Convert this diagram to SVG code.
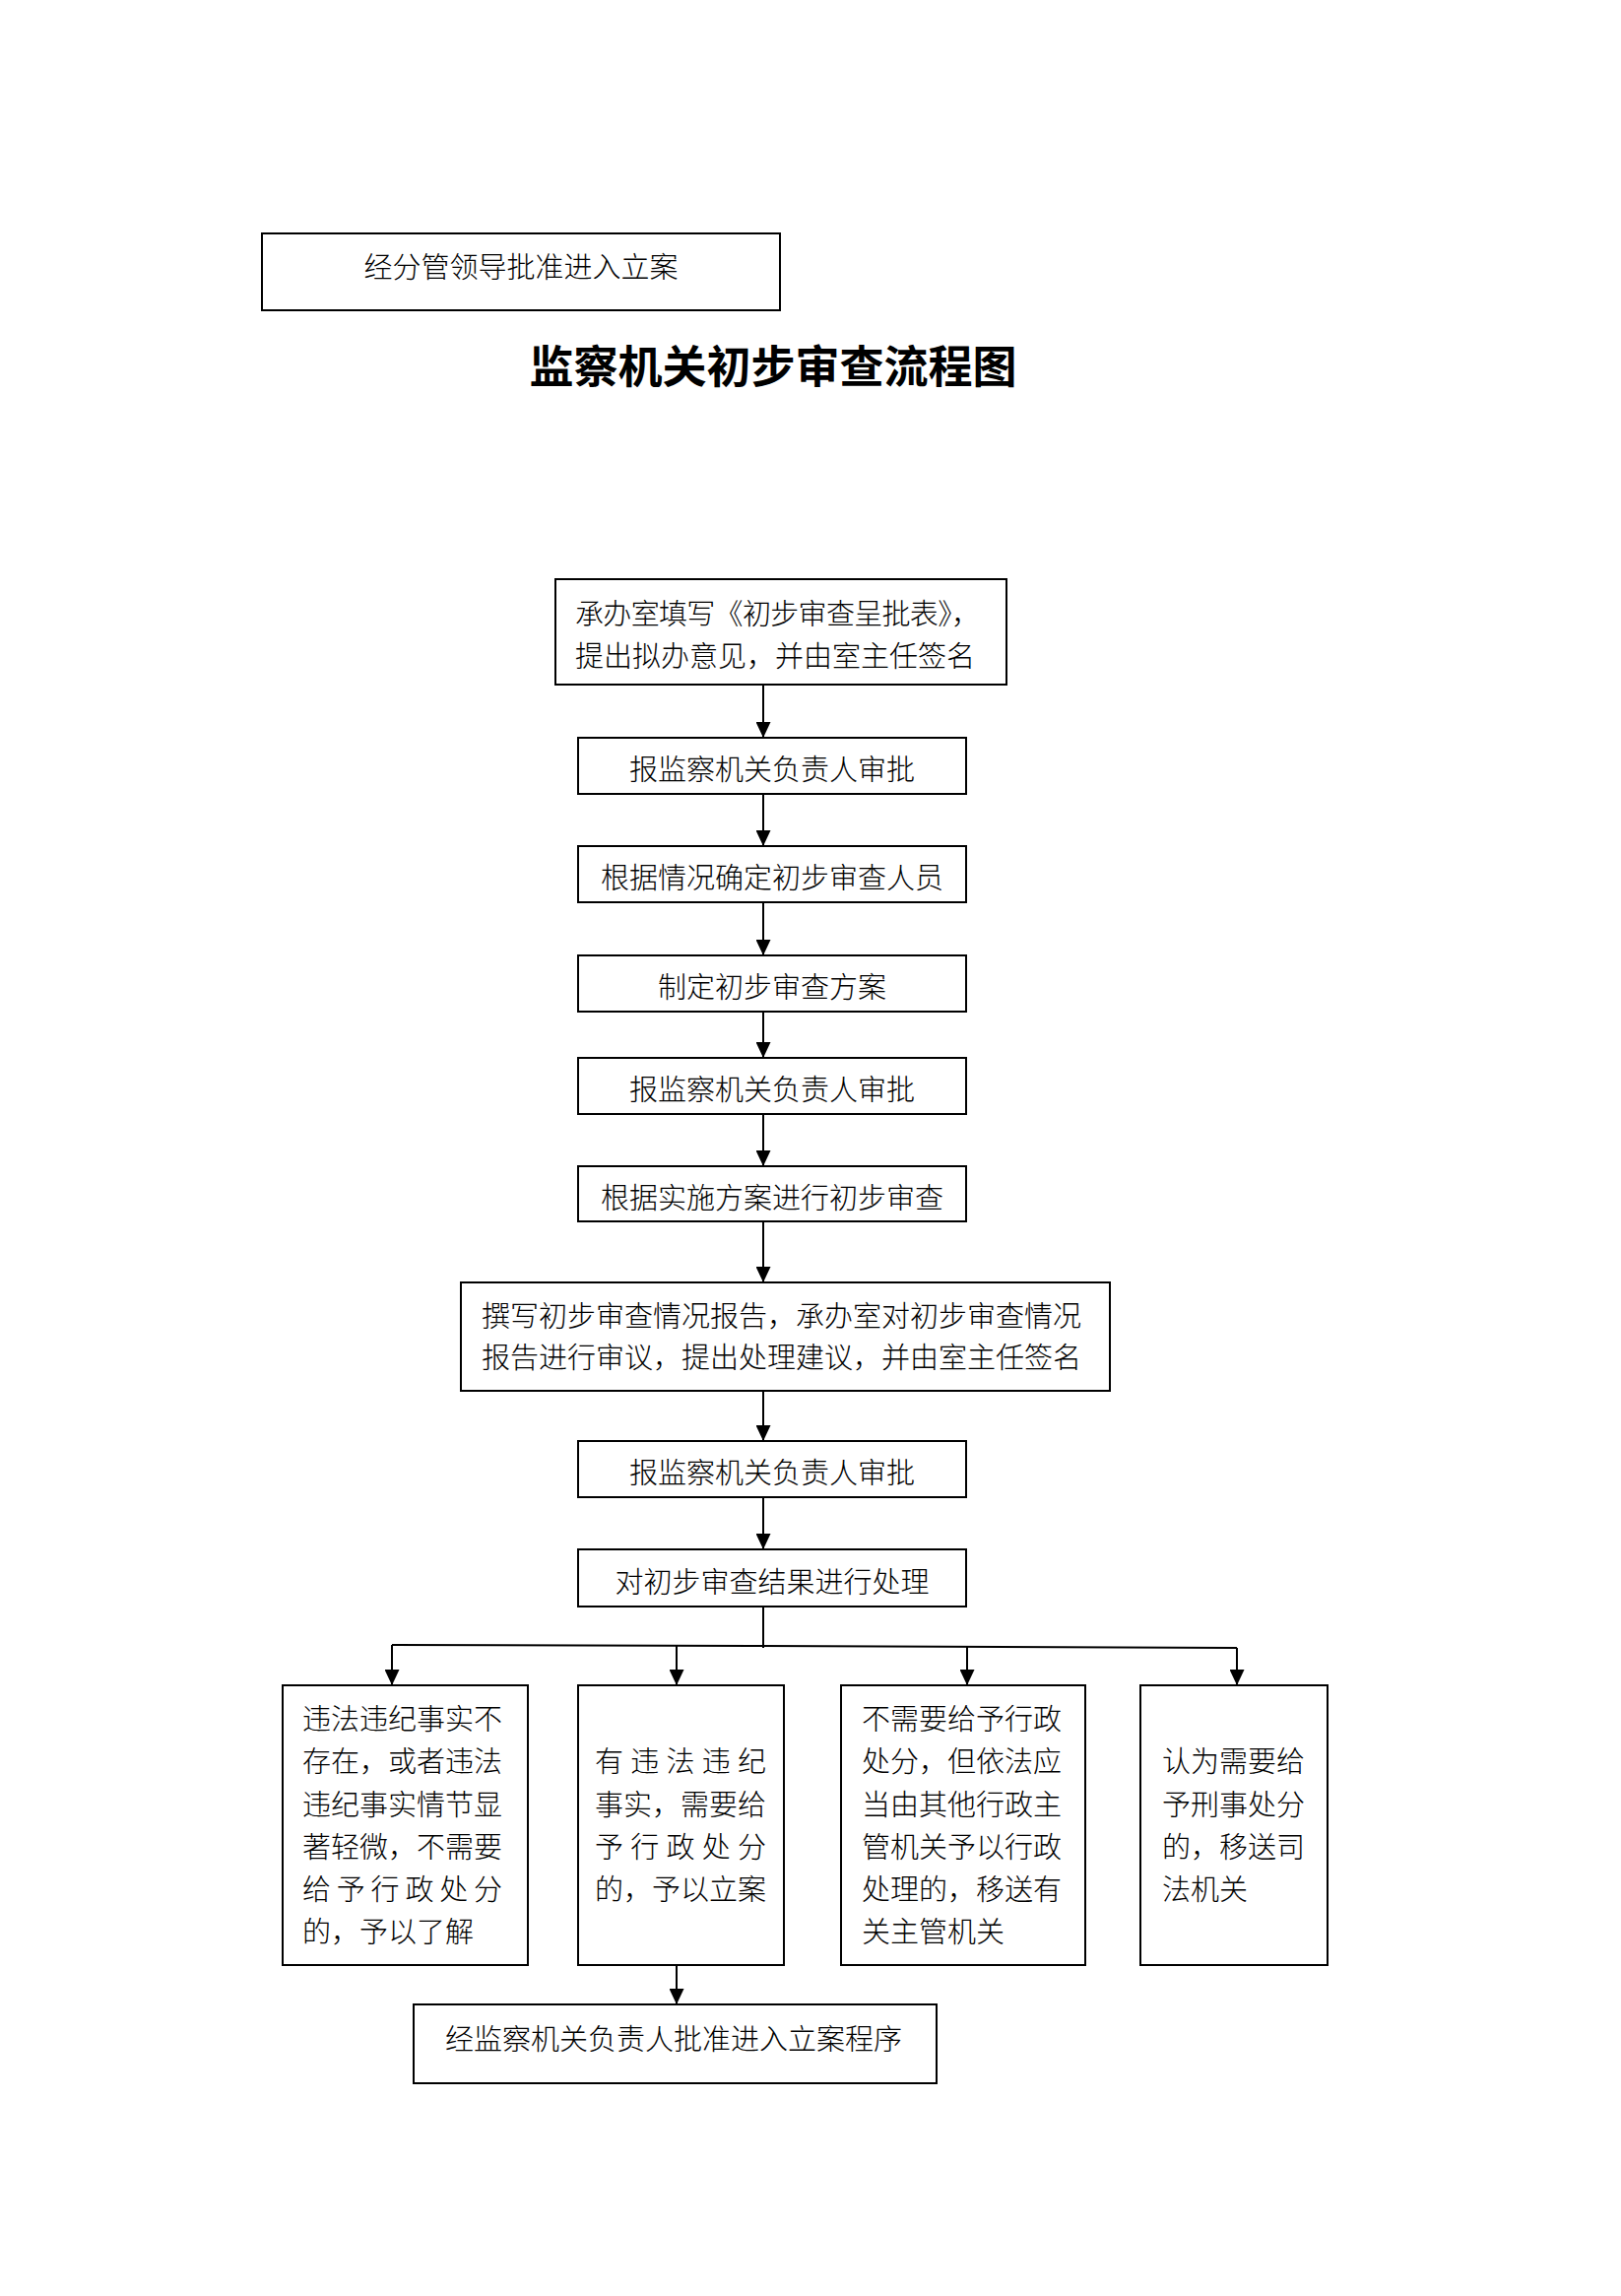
<svg xmlns="http://www.w3.org/2000/svg" width="1646" height="2331" viewBox="0 0 1646 2331">
<style>
.bg{fill:#ffffff}
.box{fill:#ffffff;stroke:#000000;stroke-width:2}
.t{font-family:"Noto Sans CJK SC","Noto Sans",sans-serif;font-size:29px;font-weight:300;fill:#000000}
.c{text-anchor:middle}
.title{font-family:"Noto Sans CJK SC","Noto Sans",sans-serif;font-size:45px;font-weight:bold;fill:#000000;text-anchor:middle}
.ln{fill:none;stroke:#000000;stroke-width:2}
</style>
<defs>
<marker id="ah" markerUnits="userSpaceOnUse" viewBox="0 0 16 15" refX="16" refY="7.5" markerWidth="16" markerHeight="15" orient="auto">
<path d="M0,0 L16,7.5 L0,15 z" fill="#000000"/>
</marker>
</defs>
<rect class="bg" x="0" y="0" width="1646" height="2331"/>

<g id="top-note">
<rect class="box" x="266" y="237" width="526" height="78"/>
<text class="t c" x="529" y="282">经分管领导批准进入立案</text>
</g>

<g id="title">
<text class="title" x="785" y="389">监察机关初步审查流程图</text>
</g>

<g id="connectors">
<line class="ln" x1="775" y1="695" x2="775" y2="749" marker-end="url(#ah)"/>
<line class="ln" x1="775" y1="806" x2="775" y2="859" marker-end="url(#ah)"/>
<line class="ln" x1="775" y1="916" x2="775" y2="970" marker-end="url(#ah)"/>
<line class="ln" x1="775" y1="1027" x2="775" y2="1074" marker-end="url(#ah)"/>
<line class="ln" x1="775" y1="1131" x2="775" y2="1184" marker-end="url(#ah)"/>
<line class="ln" x1="775" y1="1240" x2="775" y2="1302" marker-end="url(#ah)"/>
<line class="ln" x1="775" y1="1412" x2="775" y2="1463" marker-end="url(#ah)"/>
<line class="ln" x1="775" y1="1520" x2="775" y2="1573" marker-end="url(#ah)"/>
<line class="ln" x1="775" y1="1631" x2="775" y2="1673"/>
<polyline class="ln" points="398,1670 775,1671 1256,1673"/>
<line class="ln" x1="398" y1="1670" x2="398" y2="1711" marker-end="url(#ah)"/>
<line class="ln" x1="687" y1="1671" x2="687" y2="1711" marker-end="url(#ah)"/>
<line class="ln" x1="982" y1="1672" x2="982" y2="1711" marker-end="url(#ah)"/>
<line class="ln" x1="1256" y1="1673" x2="1256" y2="1711" marker-end="url(#ah)"/>
<line class="ln" x1="687" y1="1995" x2="687" y2="2035" marker-end="url(#ah)"/>
</g>

<g id="n1">
<rect class="box" x="564" y="588" width="458" height="107"/>
<text class="t" x="584" y="634" textLength="411" lengthAdjust="spacing">承办室填写《初步审查呈批表》，</text>
<text class="t" x="584" y="677">提出拟办意见，并由室主任签名</text>
</g>

<g id="n2">
<rect class="box" x="587" y="749" width="394" height="57"/>
<text class="t c" x="784" y="792">报监察机关负责人审批</text>
</g>

<g id="n3">
<rect class="box" x="587" y="859" width="394" height="57"/>
<text class="t c" x="784" y="902">根据情况确定初步审查人员</text>
</g>

<g id="n4">
<rect class="box" x="587" y="970" width="394" height="57"/>
<text class="t c" x="784" y="1013">制定初步审查方案</text>
</g>

<g id="n5">
<rect class="box" x="587" y="1074" width="394" height="57"/>
<text class="t c" x="784" y="1117">报监察机关负责人审批</text>
</g>

<g id="n6">
<rect class="box" x="587" y="1184" width="394" height="56"/>
<text class="t c" x="784" y="1227">根据实施方案进行初步审查</text>
</g>

<g id="n7">
<rect class="box" x="468" y="1302" width="659" height="110"/>
<text class="t" x="489" y="1347">撰写初步审查情况报告，承办室对初步审查情况</text>
<text class="t" x="489" y="1389">报告进行审议，提出处理建议，并由室主任签名</text>
</g>

<g id="n8">
<rect class="box" x="587" y="1463" width="394" height="57"/>
<text class="t c" x="784" y="1506">报监察机关负责人审批</text>
</g>

<g id="n9">
<rect class="box" x="587" y="1573" width="394" height="58"/>
<text class="t c" x="784" y="1617">对初步审查结果进行处理</text>
</g>

<g id="nA">
<rect class="box" x="287" y="1711" width="249" height="284"/>
<text class="t" x="307" y="1756" textLength="203" lengthAdjust="spacing">违法违纪事实不</text>
<text class="t" x="307" y="1799" textLength="203" lengthAdjust="spacing">存在，或者违法</text>
<text class="t" x="307" y="1843" textLength="203" lengthAdjust="spacing">违纪事实情节显</text>
<text class="t" x="307" y="1886" textLength="203" lengthAdjust="spacing">著轻微，不需要</text>
<text class="t" x="307" y="1929" textLength="203" lengthAdjust="spacing">给予行政处分</text>
<text class="t" x="307" y="1972">的，予以了解</text>
</g>

<g id="nB">
<rect class="box" x="587" y="1711" width="209" height="284"/>
<text class="t" x="604" y="1799" textLength="174" lengthAdjust="spacing">有违法违纪</text>
<text class="t" x="604" y="1843" textLength="174" lengthAdjust="spacing">事实，需要给</text>
<text class="t" x="604" y="1886" textLength="174" lengthAdjust="spacing">予行政处分</text>
<text class="t" x="604" y="1929" textLength="174" lengthAdjust="spacing">的，予以立案</text>
</g>

<g id="nC">
<rect class="box" x="854" y="1711" width="248" height="284"/>
<text class="t" x="875" y="1756" textLength="203" lengthAdjust="spacing">不需要给予行政</text>
<text class="t" x="875" y="1799" textLength="203" lengthAdjust="spacing">处分，但依法应</text>
<text class="t" x="875" y="1843" textLength="203" lengthAdjust="spacing">当由其他行政主</text>
<text class="t" x="875" y="1886" textLength="203" lengthAdjust="spacing">管机关予以行政</text>
<text class="t" x="875" y="1929" textLength="203" lengthAdjust="spacing">处理的，移送有</text>
<text class="t" x="875" y="1972">关主管机关</text>
</g>

<g id="nD">
<rect class="box" x="1158" y="1711" width="190" height="284"/>
<text class="t" x="1180" y="1799" textLength="145" lengthAdjust="spacing">认为需要给</text>
<text class="t" x="1180" y="1843" textLength="145" lengthAdjust="spacing">予刑事处分</text>
<text class="t" x="1180" y="1886" textLength="145" lengthAdjust="spacing">的，移送司</text>
<text class="t" x="1180" y="1929">法机关</text>
</g>

<g id="nE">
<rect class="box" x="420" y="2035" width="531" height="80"/>
<text class="t c" x="684" y="2081">经监察机关负责人批准进入立案程序</text>
</g>
</svg>
